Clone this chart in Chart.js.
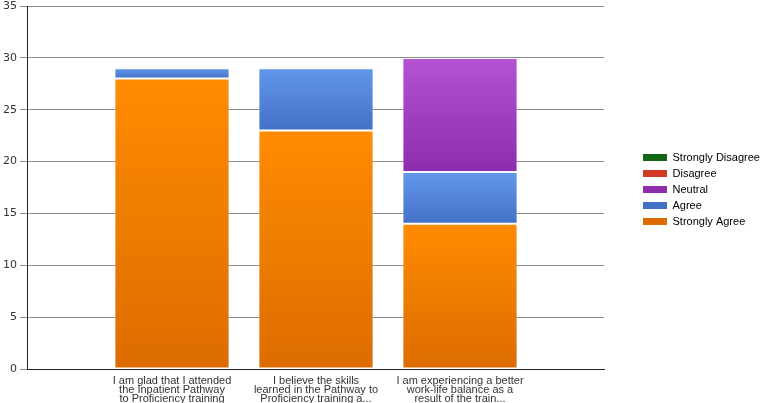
<!DOCTYPE html>
<html>
<head>
<meta charset="utf-8">
<script src="https://cdn.jsdelivr.net/npm/chart.js@4.4.0/dist/chart.umd.min.js"></script>
<style>
  html,body{margin:0;padding:0;background:#fff;}
  #wrap{width:766px;height:403px;position:relative;}
</style>
</head>
<body>
<div id="wrap"><canvas id="myChart"></canvas></div>
<script>
// categories (empty first/last slots keep the bars spaced like the original)
const questions=[
  '',
  ['I am glad that I attended','the Inpatient Pathway','to Proficiency training'],
  ['I believe the skills','learned in the Pathway to','Proficiency training a...'],
  ['I am experiencing a better','work-life balance as a','result of the train...'],
  ''
];
const stronglyAgree=[null,28,23,14,null];
const agree=[null,1,6,5,null];
const neutral=[null,0,0,11,null];
const disagree=[null,0,0,0,null];
const stronglyDisagree=[null,0,0,0,null];
const yTicks=[0,5,10,15,20,25,30,35];

const seriesList=[stronglyAgree,agree,neutral,disagree,stronglyDisagree];
// light -> dark colours for each segment gradient
const shades=[
  ['#ff8c00','#dc6c00'],
  ['#6397ea','#4371c6'],
  ['#b652d4','#8e2cae'],
  ['#f0604a','#d03a26'],
  ['#2a8a2a','#146614']
];

function segFill(k){
  return function(ctx){
    const chart=ctx.chart;
    const area=chart.chartArea;
    if(!area || ctx.type!=='data') return shades[k][0];
    const i=ctx.dataIndex;
    let base=0;
    for(let j=0;j<k;j++) base+=seriesList[j][i]||0;
    const top=base+(seriesList[k][i]||0);
    const y=chart.scales.y;
    const y0=y.getPixelForValue(top), y1=y.getPixelForValue(base);
    if(!isFinite(y0)||!isFinite(y1)||y0===y1) return shades[k][0];
    const g=chart.ctx.createLinearGradient(0,y0,0,y1);
    g.addColorStop(0,shades[k][0]);
    g.addColorStop(1,shades[k][1]);
    return g;
  };
}

const names=['Strongly Agree','Agree','Neutral','Disagree','Strongly Disagree'];
const datasets=names.map((n,k)=>({
  label:n,
  data:seriesList[k],
  backgroundColor:segFill(k),
  borderColor:'rgba(255,255,255,0.3)',
  borderWidth:1,
  borderSkipped:false,
  categoryPercentage:0.8,
  barPercentage:1
}));

// keep the legend column as wide as the original one, then nudge its items
const legendWidth={
  id:'legendWidth',
  beforeInit(chart){
    const lg=chart.legend;
    if(!lg) return;
    const fit=lg.fit;
    lg.fit=function(){
      fit.call(this);
      this.width=162;
    };
  },
  afterLayout(chart){
    const lg=chart.legend;
    if(!lg) return;
    lg.left=638;
    lg.top-=13;
    lg.bottom-=13;
    if(lg.legendHitBoxes) lg.legendHitBoxes.forEach(b=>{b.left+=34;b.top-=13;});
  }
};

const pieChart=document.getElementById('myChart');
const myChart=new Chart(pieChart,{
  type:'bar',
  data:{labels:questions,datasets:datasets},
  plugins:[legendWidth],
  options:{
    responsive:true,
    maintainAspectRatio:false,
    animation:false,
    layout:{padding:{left:0,right:0,top:0,bottom:-2}},
    plugins:{
      tooltip:{enabled:false},
      legend:{
        position:'right',
        align:'center',
        reverse:true,
        labels:{
          boxWidth:24,
          boxHeight:7,
          padding:5,
          color:'#333',
          font:{family:'"Liberation Sans", Arial, sans-serif',size:11},
          generateLabels(chart){
            return chart.data.datasets.map((d,k)=>({
              text:d.label,
              fillStyle:shades[k][1],
              strokeStyle:shades[k][1],
              lineWidth:0,
              datasetIndex:k,
              hidden:false
            }));
          }
        }
      }
    },
    scales:{
      x:{
        stacked:true,
        offset:false,
        grid:{display:false,drawTicks:true,tickLength:5,tickColor:'#222'},
        border:{display:true,color:'#222',width:1},
        ticks:{
          color:'#333',
          autoSkip:false,
          maxRotation:0,
          padding:2,
          font:{family:'"Liberation Sans", Arial, sans-serif',size:11,lineHeight:0.818}
        }
      },
      y:{
        stacked:true,
        min:0,max:35,
        afterBuildTicks(axis){axis.ticks=yTicks.map(v=>({value:v}));},
        grid:{color:'#8c8c8c',lineWidth:1,tickLength:8,tickColor:'#8c8c8c'},
        border:{display:true,color:'#222',width:1},
        ticks:{
          color:'#333',
          padding:3,
          font:{family:'"DejaVu Sans", Verdana, sans-serif',size:11,lineHeight:0.55}
        }
      }
    }
  }
});
</script>
</body>
</html>
